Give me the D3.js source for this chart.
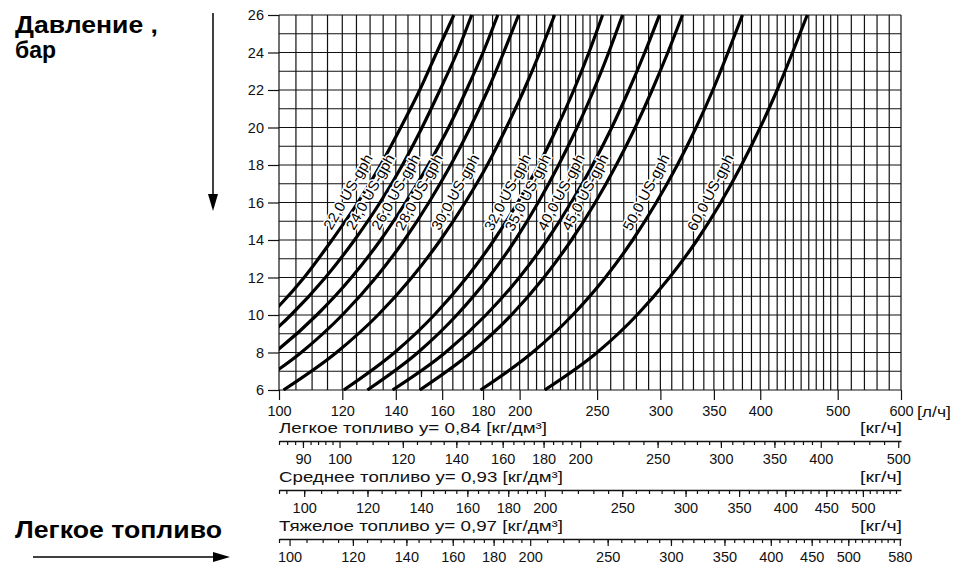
<!DOCTYPE html>
<html>
<head>
<meta charset="utf-8">
<script src="https://cdn.jsdelivr.net/npm/d3@7"></script>
<style>
  body { margin: 0; background: #fff; }
  svg { display: block; font-family: "Liberation Sans", Arial, Helvetica, sans-serif; }
</style>
</head>
<body>
<script>
// pressure levels (bar) at which the flow of every nozzle was read
const pressures = [6, 8, 10, 12, 14, 16, 18, 20, 22, 24, 26];

// nozzle names (US gph) and flows in l/h at the pressures above
const nozzleNames = ['22,0', '24,0', '26,0', '28,0', '30,0', '32,0', '35,0', '40,0', '45,0', '50,0', '60,0'];
const flow22 = [73, 86, 97.5, 107.5, 116.5, 125.5, 134, 142, 150, 157.5, 165.5];
const flow24 = [78, 91.5, 103.5, 114.3, 124.3, 133.8, 142.7, 151, 159, 167, 174.2];
const flow26 = [84, 98.7, 111.5, 123.2, 134, 144, 153.7, 163, 171.6, 180, 187.8];
const flow28 = [91.4, 106.6, 120, 132.2, 143.5, 154, 164, 173.5, 182.5, 191, 199.4];
const flow30 = [101.3, 118, 133, 146.6, 159.2, 171, 182.2, 192.5, 202.5, 212, 221.2];
const flow32 = [120.5, 139.5, 156.4, 171.7, 185.8, 198.9, 211.3, 222.8, 233.8, 244.2, 254];
const flow35 = [129, 149.2, 166.9, 182.9, 197.5, 211, 223.8, 236, 247.6, 258.5, 269];
const flow40 = [138.7, 161.5, 181.5, 199.8, 216.5, 232, 246.8, 260.8, 274, 286.8, 299.2];
const flow45 = [150, 174, 195.3, 214.5, 232.2, 248.7, 264.2, 279, 293, 306.5, 319.7];
const flow50 = [178.7, 207.5, 233, 256, 277, 296.5, 315, 332.5, 349, 364.5, 380];
const flow60 = [215, 250, 280.5, 308, 333.5, 357, 379, 400, 420, 439, 458];
const nozzleFlows = [flow22, flow24, flow26, flow28, flow30, flow32, flow35, flow40, flow45, flow50, flow60];

// main axes
const flowTicks = [100, 120, 140, 160, 180, 200, 250, 300, 350, 400, 500, 600];
const pressureTicks = [6, 8, 10, 12, 14, 16, 18, 20, 22, 24, 26];

// mass flow scales (kg/h) for three fuel densities
const fuelTitles = ['Легкое топливо y= 0,84 [кг/дм³]', 'Среднее топливо y= 0,93 [кг/дм³]', 'Тяжелое топливо y= 0,97 [кг/дм³]'];
const fuelDensities = [0.84, 0.93, 0.97];
const lightTicks = [90, 100, 120, 140, 160, 180, 200, 250, 300, 350, 400, 500];
const mediumTicks = [100, 120, 140, 160, 180, 200, 250, 300, 350, 400, 450, 500];
const heavyTicks = [100, 120, 140, 160, 180, 200, 250, 300, 350, 400, 450, 500, 580];

function drawChart() {
    const dimensions = {
        width: 960,
        height: 567,
        plot: { left: 279, right: 901, top: 15, bottom: 390 },
    };
    const plot = dimensions.plot;
    const labelFont = '14.5px';

    const svg = d3.select('body')
        .append('svg')
        .attr('width', dimensions.width)
        .attr('height', dimensions.height);

    const xScale = d3.scaleLog()
        .domain([100, 600])
        .range([plot.left, plot.right]);

    const yScale = d3.scaleLinear()
        .domain([6, 26])
        .range([plot.bottom, plot.top]);

    // grid: 5 l/h up to 250, 10 l/h up to 500, 20 l/h up to 600, every bar
    const vGrid = [...d3.range(100, 250, 5), ...d3.range(250, 500, 10), ...d3.range(500, 601, 20)];
    const hGrid = d3.range(6, 27, 1);

    const grid = svg.append('g')
        .attr('stroke', '#111')
        .attr('stroke-width', 1.2);

    grid.selectAll('line.v')
        .data(vGrid)
        .join('line')
        .attr('class', 'v')
        .attr('x1', d => xScale(d))
        .attr('x2', d => xScale(d))
        .attr('y1', yScale(6))
        .attr('y2', yScale(26));

    grid.selectAll('line.h')
        .data(hGrid)
        .join('line')
        .attr('class', 'h')
        .attr('x1', plot.left)
        .attr('x2', plot.right)
        .attr('y1', d => yScale(d))
        .attr('y2', d => yScale(d));

    // axes
    const yAxis = d3.axisLeft(yScale)
        .tickValues(pressureTicks)
        .tickSize(11)
        .tickPadding(4)
        .tickSizeOuter(0);

    const yAxisGroup = svg.append('g')
        .attr('transform', `translate(${plot.left}, 0)`)
        .call(yAxis);
    yAxisGroup.select('.domain').remove();
    yAxisGroup.selectAll('line').attr('stroke', '#111').attr('stroke-width', 1.2);
    yAxisGroup.selectAll('text')
        .attr('fill', '#111')
        .style('font-size', labelFont)
        .style('font-family', '"Liberation Sans", Arial, sans-serif');

    const xAxis = d3.axisBottom(xScale)
        .tickValues(flowTicks)
        .tickFormat(d3.format('d'))
        .tickSize(10)
        .tickPadding(6)
        .tickSizeOuter(0);

    const xAxisGroup = svg.append('g')
        .attr('transform', `translate(0, ${plot.bottom})`)
        .call(xAxis);
    xAxisGroup.select('.domain').remove();
    xAxisGroup.selectAll('line').attr('stroke', '#111').attr('stroke-width', 1.2);
    xAxisGroup.selectAll('text')
        .attr('fill', '#111')
        .style('font-size', labelFont)
        .style('font-family', '"Liberation Sans", Arial, sans-serif');

    svg.append('text')
        .attr('x', plot.right + 16)
        .attr('y', plot.bottom + 27)
        .attr('textLength', 34)
        .attr('lengthAdjust', 'spacingAndGlyphs')
        .style('font-size', '15px')
        .attr('fill', '#111')
        .text('[л/ч]');

    // nozzle curves
    svg.append('clipPath')
        .attr('id', 'plot-clip')
        .append('rect')
        .attr('x', plot.left)
        .attr('y', plot.top - 1)
        .attr('width', plot.right - plot.left)
        .attr('height', plot.bottom - plot.top + 2);

    const lineGenerator = d3.line()
        .x(d => xScale(d.flow))
        .y(d => yScale(d.pressure))
        .curve(d3.curveMonotoneX);

    const series = nozzleNames.map((name, i) => ({
        name: name,
        points: pressures.map((p, j) => ({ pressure: p, flow: nozzleFlows[i][j] })),
    }));

    svg.append('g')
        .attr('clip-path', 'url(#plot-clip)')
        .selectAll('path')
        .data(series)
        .join('path')
        .attr('d', d => lineGenerator(d.points))
        .attr('fill', 'none')
        .attr('stroke', '#000')
        .attr('stroke-width', 3.2);

    // curve labels, rotated along the curve and set just left of it
    const flowAt = (flows, p) => {
        const j = d3.bisectRight(pressures, p) - 1;
        const t = (p - pressures[j]) / (pressures[j + 1] - pressures[j]);
        return flows[j] + t * (flows[j + 1] - flows[j]);
    };
    const labelPressure = 16.2;

    svg.append('g')
        .selectAll('g')
        .data(series)
        .join('g')
        .attr('transform', (d, i) => {
            const flows = nozzleFlows[i];
            const px = xScale(flowAt(flows, labelPressure));
            const py = yScale(labelPressure);
            const x1 = xScale(flowAt(flows, labelPressure - 1.5));
            const y1 = yScale(labelPressure - 1.5);
            const x2 = xScale(flowAt(flows, labelPressure + 1.5));
            const y2 = yScale(labelPressure + 1.5);
            const angle = Math.atan2(y2 - y1, x2 - x1) * 180 / Math.PI - 3;
            return `translate(${px}, ${py}) rotate(${angle})`;
        })
        .append('text')
        .attr('text-anchor', 'middle')
        .attr('dy', -9)
        .attr('textLength', 84)
        .attr('lengthAdjust', 'spacingAndGlyphs')
        .style('font-size', '14.5px')
        .attr('fill', '#000')
        .attr('stroke', '#fff')
        .attr('stroke-width', 3)
        .attr('paint-order', 'stroke')
        .text(d => `${d.name} US-gph`);

    // mass flow scales under the chart
    const fuelTickSets = [lightTicks, mediumTicks, heavyTicks];
    const fuelMinor = [
        [84, ...d3.range(86, 100, 2), ...d3.range(105, 200, 5), ...d3.range(210, 400, 10), ...d3.range(420, 500, 20)],
        [93, ...d3.range(95, 200, 5), ...d3.range(210, 551, 10)],
        [97, ...d3.range(105, 200, 5), ...d3.range(210, 580, 10)],
    ];
    const fuelLineY = [441, 490, 539];
    const fuelTitleWidth = [268, 284, 284];

    fuelDensities.forEach((density, i) => {
        const kgScale = d3.scaleLog()
            .domain([100 * density, 600 * density])
            .range([plot.left, plot.right]);
        const lineY = fuelLineY[i];

        svg.append('text')
            .attr('x', plot.left)
            .attr('y', lineY - 8)
            .attr('textLength', fuelTitleWidth[i])
            .attr('lengthAdjust', 'spacingAndGlyphs')
            .style('font-size', '15px')
            .attr('fill', '#111')
            .text(fuelTitles[i]);

        svg.append('text')
            .attr('x', plot.right + 1)
            .attr('y', lineY - 8)
            .attr('text-anchor', 'end')
            .attr('textLength', 42)
            .attr('lengthAdjust', 'spacingAndGlyphs')
            .style('font-size', '15px')
            .attr('fill', '#111')
            .text('[кг/ч]');

        const minorAxis = d3.axisBottom(kgScale)
            .tickValues(fuelMinor[i])
            .tickFormat('')
            .tickSize(4)
            .tickSizeOuter(0);

        const majorAxis = d3.axisBottom(kgScale)
            .tickValues(fuelTickSets[i])
            .tickFormat(d3.format('d'))
            .tickSize(7)
            .tickPadding(6)
            .tickSizeOuter(0);

        const minorGroup = svg.append('g')
            .attr('transform', `translate(0, ${lineY})`)
            .call(minorAxis);
        minorGroup.selectAll('line').attr('stroke', '#111').attr('stroke-width', 1.2);
        minorGroup.select('.domain').attr('stroke', '#111').attr('stroke-width', 1.4);

        const majorGroup = svg.append('g')
            .attr('transform', `translate(0, ${lineY})`)
            .call(majorAxis);
        majorGroup.select('.domain').remove();
        majorGroup.selectAll('line').attr('stroke', '#111').attr('stroke-width', 1.2);
        majorGroup.selectAll('text')
            .attr('fill', '#111')
            .style('font-size', labelFont)
            .style('font-family', '"Liberation Sans", Arial, sans-serif');
    });

    // side titles with arrows
    const title = svg.append('g')
        .style('font-size', '23px')
        .style('font-weight', 'bold')
        .attr('fill', '#000');
    title.append('text').attr('x', 15).attr('y', 33)
        .attr('textLength', 143).attr('lengthAdjust', 'spacingAndGlyphs')
        .text('Давление ,');
    title.append('text').attr('x', 15).attr('y', 58)
        .attr('textLength', 41).attr('lengthAdjust', 'spacingAndGlyphs')
        .text('бар');
    title.append('text').attr('x', 15).attr('y', 538)
        .attr('textLength', 207).attr('lengthAdjust', 'spacingAndGlyphs')
        .text('Легкое топливо');

    svg.append('line')
        .attr('x1', 213).attr('x2', 213)
        .attr('y1', 13).attr('y2', 196)
        .attr('stroke', '#000').attr('stroke-width', 1.5);
    svg.append('path')
        .attr('d', 'M208,194 L218,194 L213,211 Z')
        .attr('fill', '#000');

    svg.append('line')
        .attr('x1', 33).attr('x2', 215)
        .attr('y1', 557).attr('y2', 557)
        .attr('stroke', '#000').attr('stroke-width', 1.5);
    svg.append('path')
        .attr('d', 'M213,552 L213,562 L230,557 Z')
        .attr('fill', '#000');
}

drawChart();
</script>
</body>
</html>
